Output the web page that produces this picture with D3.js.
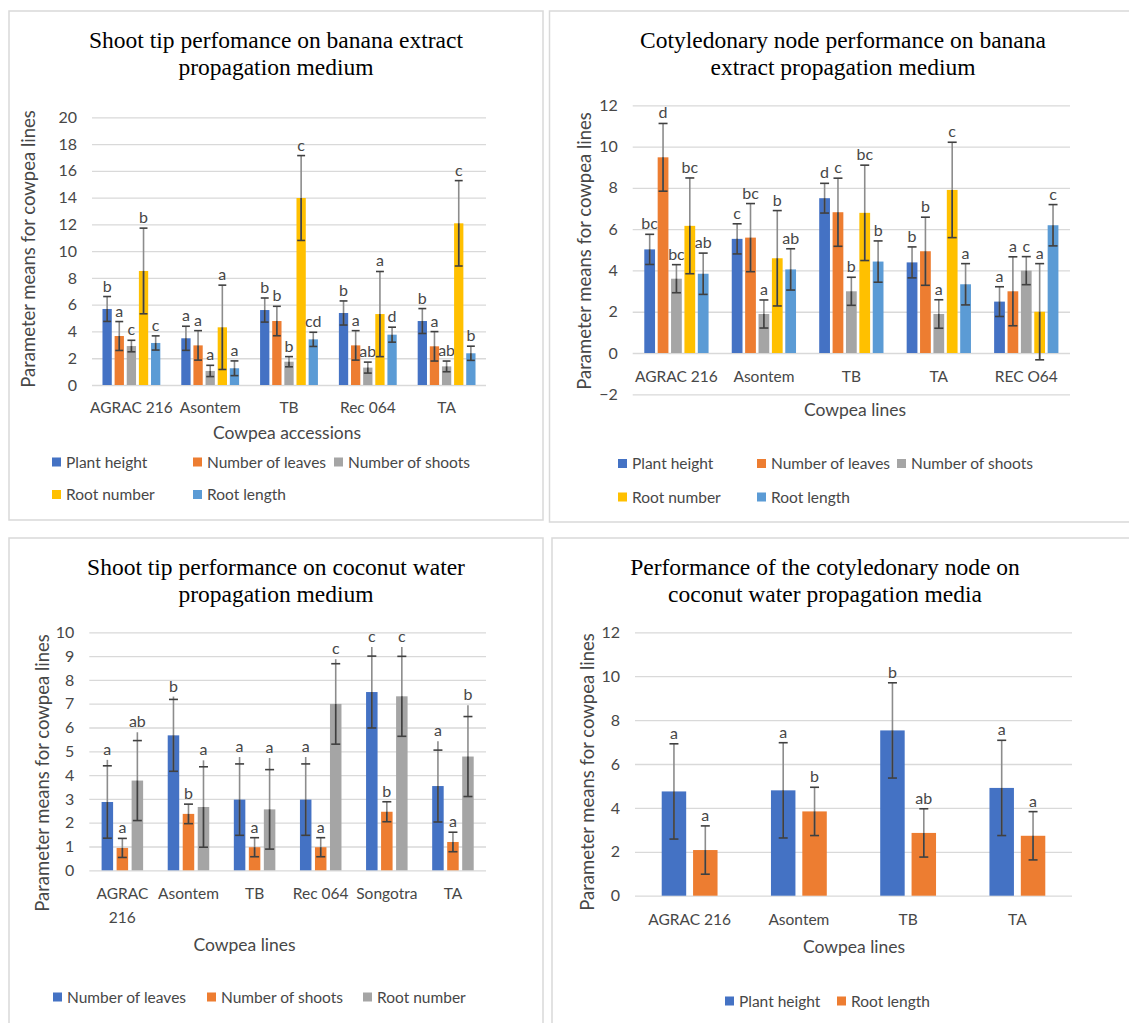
<!DOCTYPE html>
<html><head><meta charset="utf-8">
<script src="https://cdn.jsdelivr.net/npm/d3@7"></script>
<style>
body{margin:0;background:#fff}
svg{display:block}
</style>
</head><body>
<svg id="chart" width="1129" height="1023"></svg>
<script>
// ---------------- DATA ----------------
// Panel A: Shoot tip performance on banana extract propagation medium
const aCategories = ["AGRAC 216", "Asontem", "TB", "Rec 064", "TA"];
const aSeriesNames = ["Plant height", "Number of leaves", "Number of shoots", "Root number", "Root length"];
const aPlantHeight  = [5.68, 3.49, 5.60, 5.38, 4.78];
const aPlantHeightErr = [0.93, 0.90, 0.90, 0.90, 0.93];
const aPlantHeightLbl = ["b", "a", "b", "b", "b"];
const aLeaves = [3.66, 2.96, 4.78, 2.96, 2.89];
const aLeavesErr = [1.08, 1.10, 1.10, 1.10, 1.10];
const aLeavesLbl = ["a", "a", "b", "a", "a"];
const aShoots = [2.91, 1.05, 1.74, 1.30, 1.39];
const aShootsErr = [0.43, 0.42, 0.38, 0.41, 0.40];
const aShootsLbl = ["c", "a", "b", "ab", "ab"];
const aRootNumber = [8.52, 4.31, 13.97, 5.30, 12.08];
const aRootNumberErr = [3.20, 3.15, 3.17, 3.18, 3.19];
const aRootNumberLbl = ["b", "a", "c", "a", "c"];
const aRootLength = [3.14, 1.25, 3.41, 3.76, 2.37];
const aRootLengthErr = [0.53, 0.55, 0.53, 0.56, 0.53];
const aRootLengthLbl = ["c", "a", "cd", "d", "b"];
const aTicks = [0, 2, 4, 6, 8, 10, 12, 14, 16, 18, 20];

// Panel B: Cotyledonary node performance on banana extract propagation medium
const bCategories = ["AGRAC 216", "Asontem", "TB", "TA", "REC O64"];
const bSeriesNames = ["Plant height", "Number of leaves", "Number of shoots", "Root number", "Root length"];
const bPlantHeight = [5.02, 5.53, 7.50, 4.39, 2.49];
const bPlantHeightErr = [0.73, 0.73, 0.72, 0.75, 0.72];
const bPlantHeightLbl = ["bc", "c", "d", "b", "a"];
const bLeaves = [9.48, 5.59, 6.82, 4.93, 2.99];
const bLeavesErr = [1.64, 1.65, 1.65, 1.65, 1.67];
const bLeavesLbl = ["d", "bc", "c", "b", "a"];
const bShoots = [3.60, 1.89, 2.99, 1.89, 3.99];
const bShootsErr = [0.68, 0.68, 0.68, 0.69, 0.68];
const bShootsLbl = ["bc", "a", "b", "a", "c"];
const bRootNumber = [6.16, 4.59, 6.79, 7.90, 2.00];
const bRootNumberErr = [2.32, 2.31, 2.31, 2.31, 2.33];
const bRootNumberLbl = ["bc", "b", "bc", "c", "a"];
const bRootLength = [3.84, 4.05, 4.43, 3.33, 6.19];
const bRootLengthErr = [1.00, 1.00, 1.00, 1.00, 1.00];
const bRootLengthLbl = ["ab", "ab", "b", "a", "c"];
const bTicks = [-2, 0, 2, 4, 6, 8, 10, 12];

// Panel C: Shoot tip performance on coconut water propagation medium
const cCategories = ["AGRAC 216", "Asontem", "TB", "Rec 064", "Songotra", "TA"];
const cSeriesNames = ["Number of leaves", "Number of shoots", "Root number"];
const cLeaves = [2.87, 5.67, 2.97, 2.97, 7.49, 3.54];
const cLeavesErr = [1.52, 1.51, 1.50, 1.50, 1.51, 1.51];
const cLeavesUpper = [4.64, 7.30, 4.76, 4.76, 9.38, 5.42];
const cLeavesLbl = ["a", "b", "a", "a", "c", "a"];
const cShoots = [0.94, 2.37, 0.97, 0.97, 2.46, 1.19];
const cShootsErr = [0.40, 0.41, 0.40, 0.40, 0.42, 0.41];
const cShootsLbl = ["a", "b", "a", "a", "b", "a"];
const cRootNumber = [3.77, 2.66, 2.56, 6.99, 7.31, 4.78];
const cRootNumberErr = [1.68, 1.69, 1.67, 1.69, 1.68, 1.68];
const cRootNumberUpper = [5.80, 4.62, 4.72, 8.87, 9.38, 6.93];
const cRootNumberLbl = ["ab", "a", "a", "c", "c", "b"];
const cTicks = [0, 1, 2, 3, 4, 5, 6, 7, 8, 9, 10];

// Panel D: Performance of the cotyledonary node on coconut water propagation media
const dCategories = ["AGRAC 216", "Asontem", "TB", "TA"];
const dSeriesNames = ["Plant height", "Root length"];
const dPlantHeight = [4.75, 4.80, 7.53, 4.91];
const dPlantHeightErr = [2.17, 2.17, 2.17, 2.17];
const dPlantHeightLbl = ["a", "a", "b", "a"];
const dRootLength = [2.08, 3.84, 2.86, 2.73];
const dRootLengthErr = [1.10, 1.10, 1.10, 1.10];
const dRootLengthLbl = ["a", "b", "ab", "a"];
const dTicks = [0, 2, 4, 6, 8, 10, 12];

// ---------------- DRAWING ----------------
const C_BLUE = "#4472C4", C_ORANGE = "#ED7D31", C_GRAY = "#A5A5A5", C_YELLOW = "#FFC000", C_LBLUE = "#5B9BD5";
const SANS = "Lato, 'Open Sans', 'Noto Sans', sans-serif";
const SERIF = "'Liberation Serif', 'DejaVu Serif', serif";
const TXT = "#474747";
const svg = d3.select("#chart");

function drawPanel(p) {
  const g = svg.append("g");
  g.append("rect").attr("x", p.box[0]).attr("y", p.box[1]).attr("width", p.box[2]).attr("height", p.box[3])
    .attr("fill", "none").attr("stroke", "#d9d9d9").attr("stroke-width", 1.5);

  p.title.forEach((t, i) => {
    g.append("text").attr("x", p.titleX).attr("y", p.titleY + i * 27).attr("text-anchor", "middle")
      .style("font-family", SERIF).style("font-size", "23.5px").attr("fill", "#000").text(t);
  });

  const y = d3.scaleLinear().domain([p.ticks[0], p.ticks[p.ticks.length - 1]]).range([p.yBottom, p.yTop]);
  const x0 = d3.scaleBand().domain(p.categories).range([p.xLeft, p.xRight]).padding(0);
  const W = x0.bandwidth();
  const k = p.series.length;
  const step = W * p.stepFrac, bw = W * p.bwFrac;
  const xs = d3.scaleBand().domain(d3.range(k)).range([-step * k / 2, step * k / 2]).paddingInner(1 - bw / step).paddingOuter((1 - bw / step) / 2);

  // y axis with gridlines
  const ga = g.append("g").attr("transform", `translate(${p.xLeft},0)`)
    .call(d3.axisLeft(y).tickValues(p.ticks).tickSize(-(p.xRight - p.xLeft)).tickPadding(15).tickFormat(d3.format("d")));
  ga.select(".domain").remove();
  ga.selectAll(".tick line").attr("stroke", "#d9d9d9").attr("stroke-width", 1.3);
  ga.selectAll(".tick text").attr("fill", TXT).style("font-family", SANS).style("font-size", "16px");

  // category axis
  const gx = g.append("g").attr("transform", `translate(0,${p.yBottom})`)
    .call(d3.axisBottom(x0).tickSize(0).tickPadding(0));
  gx.select(".domain").remove();
  gx.selectAll(".tick text").attr("fill", TXT).style("font-family", SANS).style("font-size", "15.5px")
    .attr("dy", null).attr("y", p.catBaseline - p.yBottom)
    .each(function (d) {
      if (p.wrap && p.wrap.includes(d)) {
        const t = d3.select(this); const parts = d.split(" ");
        t.text(null);
        parts.forEach((w, i) => t.append("tspan").attr("x", 0).attr("y", p.catBaseline - p.yBottom + i * 23.7).text(w));
      }
    });

  // bars
  p.series.forEach((s, i) => {
    const sg = g.append("g");
    p.categories.forEach((cat, j) => {
      const cx = x0(cat) + W / 2 + xs(i) + xs.bandwidth() / 2;
      const v = s.values[j], e = s.err[j];
      sg.append("rect").attr("x", cx - bw / 2).attr("width", bw)
        .attr("y", Math.min(y(v), y(0))).attr("height", Math.abs(y(0) - y(v))).attr("fill", s.color);
      const capW = Math.min(bw * 0.85, 9);
      const top = v + e, bot = v - e;
      sg.append("line").attr("x1", cx).attr("x2", cx).attr("y1", y(bot)).attr("y2", y(top))
        .attr("stroke", "#8c8c8c").attr("stroke-width", 1.6);
      sg.append("line").attr("x1", cx).attr("x2", cx).attr("y1", y(bot)).attr("y2", y(v))
        .attr("stroke", "#404040").attr("stroke-width", 1.6);
      let hi = top;
      if (s.upper) {
        hi = s.upper[j];
        sg.append("line").attr("x1", cx).attr("x2", cx).attr("y1", y(top)).attr("y2", y(hi))
          .attr("stroke", "#8c8c8c").attr("stroke-width", 1.6);
      }
      [top, bot].forEach(b => {
        sg.append("line").attr("x1", cx - capW / 2).attr("x2", cx + capW / 2).attr("y1", y(b)).attr("y2", y(b))
          .attr("stroke", "#404040").attr("stroke-width", 1.6);
      });
      sg.append("text").attr("x", cx).attr("y", y(hi) - 5).attr("text-anchor", "middle")
        .attr("fill", TXT).style("font-family", SANS).style("font-size", "16px").text(s.labels[j]);
    });
  });

  // axis titles
  g.append("text").attr("x", p.xTitle[0]).attr("y", p.xTitle[1]).attr("text-anchor", "middle")
    .attr("fill", TXT).style("font-family", SANS).style("font-size", "17.5px").text(p.xTitleText);
  g.append("text").attr("transform", `translate(${p.yTitle[0]},${p.yTitle[1]}) rotate(-90)`)
    .attr("dy", "0.35em").attr("text-anchor", "middle")
    .attr("fill", TXT).style("font-family", SANS).style("font-size", "18.5px").text("Parameter means for cowpea lines");

  // legend
  p.series.forEach((s, i) => {
    const [lx, ly] = p.legend[i];
    g.append("rect").attr("x", lx).attr("y", ly - 10).attr("width", 9).attr("height", 9).attr("fill", s.color);
    g.append("text").attr("x", lx + 14).attr("y", ly).attr("fill", TXT)
      .style("font-family", SANS).style("font-size", "15.5px").text(s.name);
  });
}

drawPanel({
  box: [9, 11, 534, 509], title: ["Shoot tip perfomance on banana extract", "propagation medium"], titleX: 276, titleY: 48,
  categories: aCategories, ticks: aTicks, xLeft: 92, xRight: 486, yBottom: 385, yTop: 117.3,
  stepFrac: 0.154, bwFrac: 0.118, catBaseline: 413,
  xTitleText: "Cowpea accessions", xTitle: [287, 439], yTitle: [29, 249],
  series: [
    {name: aSeriesNames[0], color: C_BLUE, values: aPlantHeight, err: aPlantHeightErr, labels: aPlantHeightLbl},
    {name: aSeriesNames[1], color: C_ORANGE, values: aLeaves, err: aLeavesErr, labels: aLeavesLbl},
    {name: aSeriesNames[2], color: C_GRAY, values: aShoots, err: aShootsErr, labels: aShootsLbl},
    {name: aSeriesNames[3], color: C_YELLOW, values: aRootNumber, err: aRootNumberErr, labels: aRootNumberLbl},
    {name: aSeriesNames[4], color: C_LBLUE, values: aRootLength, err: aRootLengthErr, labels: aRootLengthLbl}
  ],
  legend: [[52, 467.5], [193, 467.5], [334, 467.5], [52, 500], [193, 500]]
});

drawPanel({
  box: [549.5, 11, 600, 511], title: ["Cotyledonary node performance on banana", "extract propagation medium"], titleX: 843, titleY: 48,
  categories: bCategories, ticks: bTicks, xLeft: 632.7, xRight: 1070, yBottom: 394.3, yTop: 105.3,
  stepFrac: 0.153, bwFrac: 0.123, catBaseline: 382.3,
  xTitleText: "Cowpea lines", xTitle: [855, 416], yTitle: [585, 251],
  series: [
    {name: bSeriesNames[0], color: C_BLUE, values: bPlantHeight, err: bPlantHeightErr, labels: bPlantHeightLbl},
    {name: bSeriesNames[1], color: C_ORANGE, values: bLeaves, err: bLeavesErr, labels: bLeavesLbl},
    {name: bSeriesNames[2], color: C_GRAY, values: bShoots, err: bShootsErr, labels: bShootsLbl},
    {name: bSeriesNames[3], color: C_YELLOW, values: bRootNumber, err: bRootNumberErr, labels: bRootNumberLbl},
    {name: bSeriesNames[4], color: C_LBLUE, values: bRootLength, err: bRootLengthErr, labels: bRootLengthLbl}
  ],
  legend: [[618, 469], [757, 469], [897, 469], [618, 502.5], [757, 502.5]]
});

drawPanel({
  box: [9, 538, 534, 600], title: ["Shoot tip performance on coconut water", "propagation medium"], titleX: 276, titleY: 575,
  categories: cCategories, ticks: cTicks, xLeft: 89.3, xRight: 486, yBottom: 870.3, yTop: 632.3,
  stepFrac: 0.227, bwFrac: 0.174, catBaseline: 899, wrap: ["AGRAC 216"],
  xTitleText: "Cowpea lines", xTitle: [244.5, 950.5], yTitle: [42.5, 773],
  series: [
    {name: cSeriesNames[0], color: C_BLUE, values: cLeaves, err: cLeavesErr, upper: cLeavesUpper, labels: cLeavesLbl},
    {name: cSeriesNames[1], color: C_ORANGE, values: cShoots, err: cShootsErr, labels: cShootsLbl},
    {name: cSeriesNames[2], color: C_GRAY, values: cRootNumber, err: cRootNumberErr, upper: cRootNumberUpper, labels: cRootNumberLbl}
  ],
  legend: [[53, 1002.5], [207, 1002.5], [363, 1002.5]]
});

drawPanel({
  box: [552, 538, 600, 600], title: ["Performance of the cotyledonary node on", "coconut water propagation media"], titleX: 825, titleY: 575,
  categories: dCategories, ticks: dTicks, xLeft: 635, xRight: 1072, yBottom: 895.7, yTop: 632.3,
  stepFrac: 0.287, bwFrac: 0.224, catBaseline: 925,
  xTitleText: "Cowpea lines", xTitle: [854, 953], yTitle: [588, 772],
  series: [
    {name: dSeriesNames[0], color: C_BLUE, values: dPlantHeight, err: dPlantHeightErr, labels: dPlantHeightLbl},
    {name: dSeriesNames[1], color: C_ORANGE, values: dRootLength, err: dRootLengthErr, labels: dRootLengthLbl}
  ],
  legend: [[725, 1006.5], [837, 1006.5]]
});
</script>
</body></html>
